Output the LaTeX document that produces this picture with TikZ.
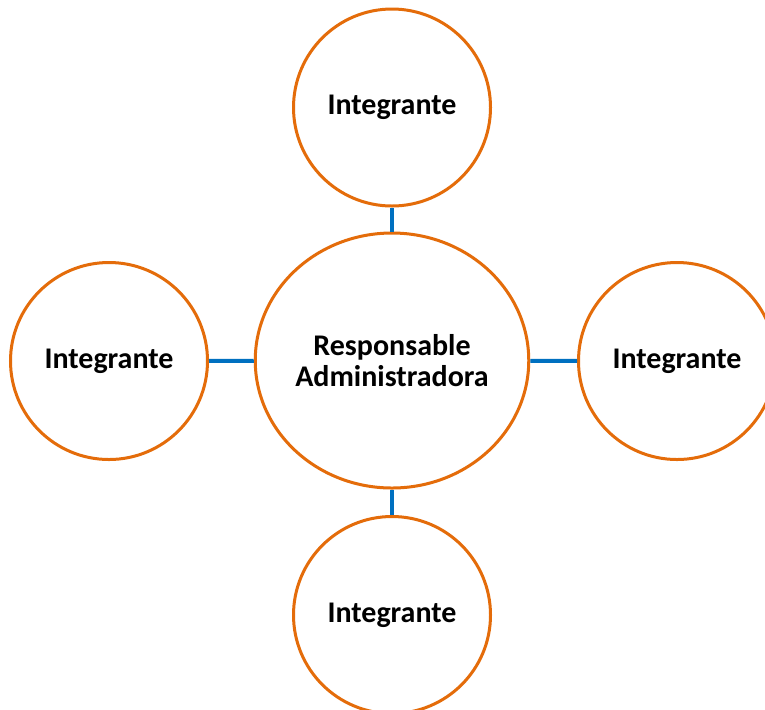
\documentclass[tikz,border=0pt]{standalone}
\usepackage{fontspec}
\setmainfont{Carlito}
\usetikzlibrary{shapes.geometric}
\definecolor{dorange}{HTML}{e46c0a}
\definecolor{dblue}{HTML}{0070c0}
\tikzset{
  member/.style={draw=dorange, line width=1.5pt, circle, fill=white, inner sep=0pt,
    minimum size=98.5pt, font=\fontsize{15}{15.5}\selectfont\bfseries},
  link/.style={draw=dblue, line width=2pt}
}

\begin{document}
\begin{tikzpicture}[x=0.5pt, y=-0.5pt]
  \clip (0,0) rectangle (765,709);
  \fill[white] (0,0) rectangle (765,709);
  \node[member, ellipse, minimum width=136.5pt, minimum height=127.5pt, align=center] at (392, 360.5)(n0){Responsable\\Administradora};
  \node[member] at (392, 107.5)(n1){Integrante};
  \node[member] at (109, 361)(n2){Integrante};
  \node[member] at (677, 361)(n3){Integrante};
  \node[member] at (392, 615)(n4){Integrante};
  \draw[link] (n1)--(n0);
  \draw[link] (n2)--(n0);
  \draw[link] (n3)--(n0);
  \draw[link] (n4)--(n0);
\end{tikzpicture}
\end{document}
